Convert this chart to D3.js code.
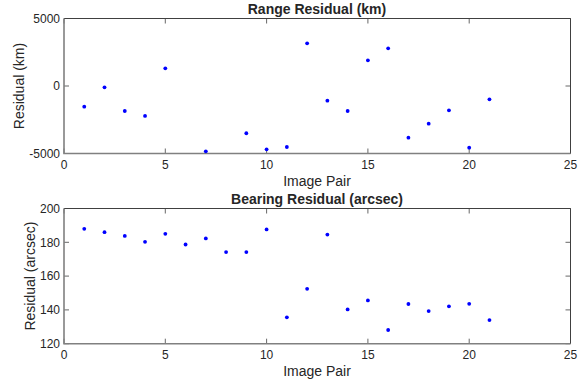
<!DOCTYPE html>
<html>
<head>
<meta charset="utf-8">
<script src="https://cdn.jsdelivr.net/npm/d3@7"></script>
<style>
  body { margin: 0; background: #fff; }
  svg text { font-family: "Liberation Sans", Arial, sans-serif; fill: #262626; }
</style>
</head>
<body>
<svg id="chart" width="584" height="383"></svg>
<script>
// Data
const rangePairs = [1, 2, 3, 4, 5, 7, 9, 10, 11, 12, 13, 14, 15, 16, 17, 18, 19, 20, 21];
const rangeResidual = [-1530, -100, -1850, -2220, 1310, -4840, -3500, -4690, -4520,
    3160, -1090, -1850, 1900, 2790, -3830, -2790, -1800, -4570, -990];

const bearingPairs = [1, 2, 3, 4, 5, 6, 7, 8, 9, 10, 11, 12, 13, 14, 15, 16, 17, 18, 19, 20, 21];
const bearingResidual = [188.0, 186.0, 183.8, 180.3, 185.0, 178.7, 182.3, 174.2, 174.2, 187.6,
    135.6, 152.5, 184.6, 140.3, 145.6, 128.1, 143.5, 139.3, 142.1, 143.6, 134.0];

const xTicks = [0, 5, 10, 15, 20, 25];
const rangeTicks = [-5000, 0, 5000];
const bearingTicks = [120, 140, 160, 180, 200];

const svg = d3.select("#chart");

function drawPanel(opts) {
    const x = d3.scaleLinear().domain([0, 25]).range([64, 570.5]);
    const y = d3.scaleLinear().domain(opts.domain).range([opts.bottom, opts.top]);
    const g = svg.append("g");

    // ticks (inward, on all four sides)
    const tl = 5;
    xTicks.forEach(t => {
        g.append("line").attr("x1", x(t)).attr("x2", x(t))
            .attr("y1", opts.bottom).attr("y2", opts.bottom - tl)
            .attr("stroke", "#262626").attr("stroke-width", 0.7);
        g.append("line").attr("x1", x(t)).attr("x2", x(t))
            .attr("y1", opts.top).attr("y2", opts.top + tl)
            .attr("stroke", "#262626").attr("stroke-width", 0.7);
        g.append("text").attr("x", x(t)).attr("y", opts.bottom + 15.5)
            .attr("text-anchor", "middle").style("font-size", "12px").text(t);
    });
    opts.ticks.forEach(t => {
        g.append("line").attr("x1", 64).attr("x2", 64 + tl)
            .attr("y1", y(t)).attr("y2", y(t))
            .attr("stroke", "#262626").attr("stroke-width", 0.7);
        g.append("line").attr("x1", 570.5).attr("x2", 570.5 - tl)
            .attr("y1", y(t)).attr("y2", y(t))
            .attr("stroke", "#262626").attr("stroke-width", 0.7);
        g.append("text").attr("x", 60).attr("y", y(t) + 4.3)
            .attr("text-anchor", "end").style("font-size", "12px").text(t);
    });

    // box
    g.append("path")
        .attr("d", `M64,${opts.top}H570.5V${opts.bottom}`)
        .attr("fill", "none").attr("stroke", "#404040").attr("stroke-width", 1);
    g.append("path")
        .attr("d", `M64,${opts.top}V${opts.bottom}H570.5`)
        .attr("fill", "none").attr("stroke", "#808080").attr("stroke-width", 1.6);

    // points
    g.selectAll("circle.pt")
        .data(opts.xs.map((v, i) => ({x: v, y: opts.ys[i]})))
        .enter().append("circle")
        .attr("class", "pt")
        .attr("cx", d => x(d.x))
        .attr("cy", d => y(d.y))
        .attr("r", 1.9)
        .attr("fill", "#0000ff");

    // labels
    g.append("text").attr("x", 317).attr("y", opts.top - 5)
        .attr("text-anchor", "middle").style("font-size", "14px").style("font-weight", "bold")
        .text(opts.title);
    g.append("text").attr("x", 317).attr("y", opts.bottom + 32.5)
        .attr("text-anchor", "middle").style("font-size", "14px").text("Image Pair");
    g.append("text")
        .attr("transform", `translate(${opts.ylabelX},${(opts.top + opts.bottom) / 2}) rotate(-90)`)
        .attr("text-anchor", "middle").style("font-size", "14px").text(opts.ylabel);
}

drawPanel({
    top: 18.5, bottom: 153.5, domain: [-5000, 5000], ticks: rangeTicks,
    xs: rangePairs, ys: rangeResidual,
    title: "Range Residual (km)", ylabel: "Residual (km)", ylabelX: 24
});
drawPanel({
    top: 208.5, bottom: 343.7, domain: [120, 200], ticks: bearingTicks,
    xs: bearingPairs, ys: bearingResidual,
    title: "Bearing Residual (arcsec)", ylabel: "Residual (arcsec)", ylabelX: 35
});
</script>
</body>
</html>
